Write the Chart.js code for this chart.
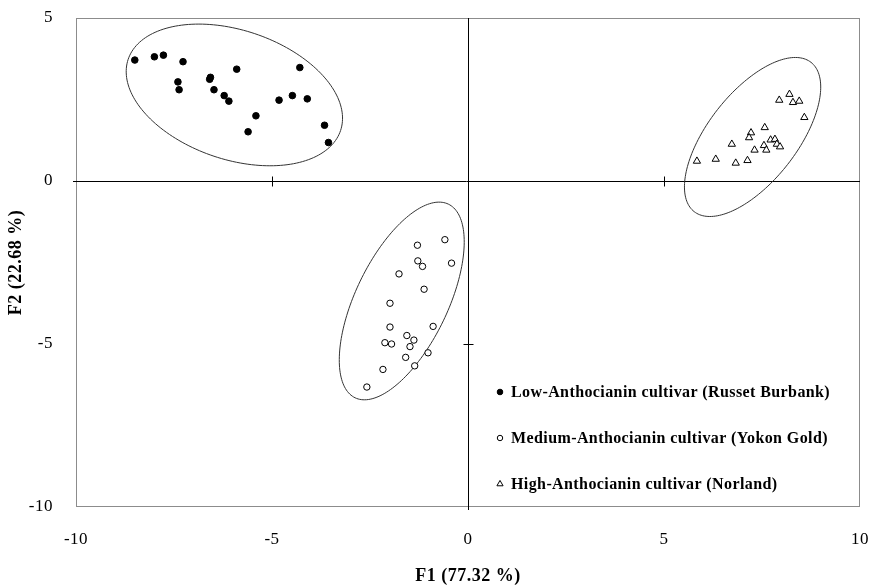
<!DOCTYPE html>
<html>
<head>
<meta charset="utf-8">
<script src="https://cdn.jsdelivr.net/npm/chart.js@4.4.1/dist/chart.umd.min.js"></script>
<style>
html,body{margin:0;padding:0;background:#fff;}
#wrap{width:872px;height:587px;position:relative;}
</style>
</head>
<body>
<div id="wrap"><canvas id="c" width="872" height="587"></canvas></div>
<script>
// ---- Data ----
const seriesLabels = [
  'Low-Anthocianin cultivar (Russet Burbank)',
  'Medium-Anthocianin cultivar (Yokon Gold)',
  'High-Anthocianin cultivar (Norland)'
];
const lowX = [-8.50,-8.00,-7.77,-7.27,-7.40,-7.37,-6.57,-6.59,-6.48,-6.22,-6.10,-5.90,-5.41,-5.61,-4.82,-4.48,-4.29,-4.10,-3.66,-3.56];
const lowY = [3.71,3.81,3.86,3.66,3.04,2.80,3.18,3.12,2.80,2.62,2.45,3.43,2.00,1.51,2.48,2.62,3.48,2.52,1.71,1.18];
const medX = [-0.59,-1.29,-1.28,-1.16,-0.42,-1.76,-1.12,-1.99,-1.99,-0.89,-1.56,-1.38,-2.12,-1.95,-1.48,-1.02,-1.59,-1.36,-2.17,-2.58];
const medY = [-1.80,-1.97,-2.45,-2.62,-2.52,-2.85,-3.32,-3.75,-4.48,-4.46,-4.74,-4.88,-4.96,-5.00,-5.08,-5.27,-5.41,-5.67,-5.78,-6.32];
const highX = [7.94,8.20,8.29,8.45,8.58,7.57,7.22,7.17,6.73,7.72,7.83,7.88,7.96,7.55,7.61,7.31,5.84,6.32,6.83,7.13];
const highY = [2.48,2.66,2.41,2.45,1.95,1.64,1.48,1.33,1.13,1.26,1.28,1.13,1.05,1.09,0.95,0.95,0.61,0.67,0.55,0.63];
const xTicks = [-10,-5,0,5,10];
const yTicks = [-10,-5,0,5];
const xTitle = 'F1 (77.32 %)';
const yTitle = 'F2 (22.68 %)';
// confidence ellipses in data units: centre, and two conjugate semi-axis vectors
const ellipseCentre = [[-5.96,2.64],[-1.69,-3.68],[7.26,1.35]];
const ellipseAxisU  = [[2.71,-1.09],[1.19,2.97],[1.49,2.29]];
const ellipseAxisV  = [[-0.52,-1.88],[1.06,-0.61],[0.895,-0.84]];

function pts(xs, ys){ return xs.map((x,i)=>({x:x, y:ys[i]})); }

const SERIF = '"Liberation Serif", "Times New Roman", serif';

const spacing = {
  id:'spacing',
  beforeUpdate(chart){ try { chart.ctx.letterSpacing = '0.5px'; } catch(e){} },
  beforeDraw(chart){ try { chart.ctx.letterSpacing = '0.5px'; } catch(e){} }
};

const frame = {
  id:'frame',
  beforeDatasetsDraw(chart){
    const {ctx, chartArea:a, scales:{x,y}} = chart;
    ctx.save();
    ctx.strokeStyle = '#8c8c8c';
    ctx.lineWidth = 1;
    ctx.strokeRect(Math.round(a.left)+0.5, Math.round(a.top)+0.5, Math.round(a.right-a.left)-1, Math.round(a.bottom-a.top)-1);
    ctx.strokeStyle = '#000';
    const x0 = Math.round(x.getPixelForValue(0))+0.5;
    const y0 = Math.round(y.getPixelForValue(0))+0.5;
    ctx.beginPath();
    ctx.moveTo(a.left-3, y0); ctx.lineTo(a.right, y0);
    ctx.moveTo(x0, a.top); ctx.lineTo(x0, a.bottom+3);
    xTicks.forEach(v=>{
      if (v===0 || Math.abs(v)===10) return;
      const px = Math.round(x.getPixelForValue(v))+0.5;
      ctx.moveTo(px, y0-5); ctx.lineTo(px, y0+5);
    });
    yTicks.forEach(v=>{
      if (v===0 || v===5 || v===-10) return;
      const py = Math.round(y.getPixelForValue(v))+0.5;
      ctx.moveTo(x0-5, py); ctx.lineTo(x0+5, py);
    });
    ctx.stroke();
    ctx.strokeStyle = '#333';
    ctx.lineWidth = 1;
    for (let k=0;k<ellipseCentre.length;k++){
      const c = ellipseCentre[k], u = ellipseAxisU[k], v = ellipseAxisV[k];
      ctx.beginPath();
      for (let i=0;i<=180;i++){
        const t = i/180*2*Math.PI;
        const dx = c[0]+u[0]*Math.cos(t)+v[0]*Math.sin(t);
        const dy = c[1]+u[1]*Math.cos(t)+v[1]*Math.sin(t);
        const px = x.getPixelForValue(dx), py = y.getPixelForValue(dy);
        if (i===0) ctx.moveTo(px,py); else ctx.lineTo(px,py);
      }
      ctx.closePath();
      ctx.stroke();
    }
    ctx.restore();
  }
};

const legendPlugin = {
  id:'insideLegend',
  afterDraw(chart){
    const {ctx} = chart;
    const rows = [392, 438, 484];
    ctx.save();
    ctx.font = 'bold 16px ' + SERIF;
    try { ctx.letterSpacing = '0.4px'; } catch(e) {}
    ctx.textBaseline = 'middle';
    chart.data.datasets.forEach((ds,i)=>{
      const mx = 500, my = rows[i];
      ctx.strokeStyle = '#000';
      ctx.fillStyle = ds.pointBackgroundColor;
      ctx.lineWidth = 1;
      Chart.helpers.drawPoint(ctx, {pointStyle: ds.pointStyle, radius: ds.pointRadius*0.85, borderWidth:1, rotation:0}, mx, my);
      ctx.fillStyle = '#000';
      ctx.fillText(ds.label, 511, my+1);
    });
    ctx.restore();
  }
};

new Chart(document.getElementById('c'), {
  type:'scatter',
  data:{
    datasets:[
      {label:seriesLabels[0], data:pts(lowX,lowY), pointStyle:'circle', pointRadius:3.3, pointBackgroundColor:'#000', pointBorderColor:'#000', pointBorderWidth:1},
      {label:seriesLabels[1], data:pts(medX,medY), pointStyle:'circle', pointRadius:3.2, pointBackgroundColor:'#fff', pointBorderColor:'#000', pointBorderWidth:1},
      {label:seriesLabels[2], data:pts(highX,highY), pointStyle:'triangle', pointRadius:4.2, pointBackgroundColor:'#fff', pointBorderColor:'#000', pointBorderWidth:1}
    ]
  },
  options:{
    responsive:false,
    animation:false,
    layout:{padding:{top:18,right:12,left:0,bottom:0}},
    plugins:{legend:{display:false}, tooltip:{enabled:false}},
    scales:{
      x:{
        type:'linear', min:-10, max:10,
        afterBuildTicks(s){ s.ticks = xTicks.map(v=>({value:v})); },
        afterFit(s){ s.height = 80; s.paddingLeft = 0; s.paddingRight = 0; },
        grid:{display:false}, border:{display:false},
        ticks:{color:'#000', font:{family:SERIF, size:17}, padding:14, maxRotation:0},
        title:{display:true, text:xTitle, color:'#000', font:{family:SERIF, size:18, weight:'bold'}, padding:{top:0,bottom:0}}
      },
      y:{
        type:'linear', min:-10, max:5,
        afterBuildTicks(s){ s.ticks = yTicks.map(v=>({value:v})); },
        afterFit(s){ s.width = 76; s.paddingTop = 0; s.paddingBottom = 0; },
        grid:{display:false}, border:{display:false},
        ticks:{color:'#000', font:{family:SERIF, size:17}, padding:15},
        title:{display:true, text:yTitle, color:'#000', font:{family:SERIF, size:18, weight:'bold'}, padding:{top:6,bottom:0}}
      }
    }
  },
  plugins:[spacing, frame, legendPlugin]
});
</script>
</body>
</html>
